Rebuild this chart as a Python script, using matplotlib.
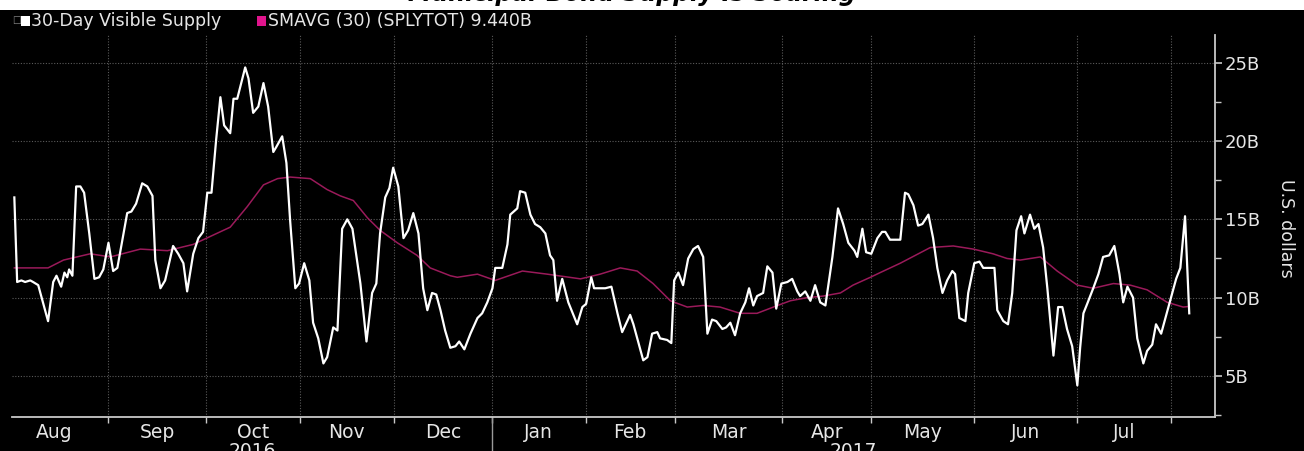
import numpy as np
import pandas as pd
import matplotlib
matplotlib.use("Agg")
import matplotlib.pyplot as plt
from matplotlib.patches import Rectangle
from matplotlib.ticker import FixedLocator, NullFormatter, FuncFormatter

###################################
# Data (x = trading-day index counted from 2016-08-01)
###################################

holidays = ['2016-09-05', '2016-10-10', '2016-11-11', '2016-11-24', '2016-12-26',
            '2017-01-02', '2017-01-16', '2017-02-20', '2017-04-14', '2017-05-29',
            '2017-07-04']

supply_day = [3.0, 3.6, 4.5, 5.3, 6.4, 7.0, 8.1, 9.2, 10.2, 11.3, 12.0, 13.0, 13.7, 14.3,
              14.7, 15.4, 16.2, 17.1, 17.9, 19.0, 20.1, 21.1, 22.0, 23.1, 24.1, 25.0, 27.1,
              28.0, 29.0, 30.3, 31.4, 32.5, 33.1, 34.2, 35.2, 36.9, 38.0, 39.1, 39.9, 41.2,
              42.3, 43.3, 44.2, 45.1, 46.1, 47.0, 47.8, 49.1, 49.8, 50.6, 52.3, 53.0, 54.0,
              55.1, 56.2, 57.2, 58.3, 58.9, 60.2, 61.1, 61.9, 63.0, 63.8, 64.9, 66.0, 66.8,
              67.9, 69.0, 69.8, 71.1, 72.0, 73.0, 74.1, 75.2, 76.9, 78.2, 79.4, 80.3, 81.1,
              82.2, 83.1, 83.9, 85.0, 86.1, 87.1, 88.2, 89.3, 90.3, 91.2, 92.2, 93.1, 94.0,
              95.0, 96.1, 97.2, 98.0, 99.1, 100.4, 101.9, 102.9, 104.0, 105.1, 105.7, 107.2,
              108.3, 108.9, 110.4, 111.0, 112.1, 113.2, 114.2, 115.3, 116.4, 117.4, 118.1,
              118.9, 120.0, 121.3, 123.2, 124.3, 125.1, 126.2, 126.8, 128.1, 129.2, 130.5,
              131.8, 132.8, 134.5, 135.2, 137.3, 138.2, 139.2, 140.3, 140.9, 142.4, 143.3,
              143.9, 144.8, 145.8, 146.9, 148.0, 149.0, 150.1, 151.0, 152.0, 152.9, 154.2,
              155.0, 155.9, 156.9, 158.0, 159.1, 159.9, 160.8, 161.6, 162.9, 163.8, 164.9,
              165.7, 166.8, 168.1, 169.1, 170.2, 170.8, 171.9, 173.0, 174.0, 175.1, 176.2,
              177.7, 178.9, 180.0, 181.1, 182.4, 183.0, 184.1, 184.9, 186.0, 187.3, 188.3,
              189.0, 190.0, 192.2, 193.2, 193.9, 195.0, 196.0, 196.9, 198.2, 199.2, 200.1,
              201.2, 202.2, 203.3, 203.9, 204.8, 206.1, 206.7, 208.0, 209.1, 209.9, 212.3,
              212.9, 214.2, 215.2, 216.1, 217.0, 218.0, 218.7, 219.9, 220.8, 221.7, 222.7,
              223.6, 224.9, 225.9, 226.8, 227.8, 228.9, 230.0, 230.6, 231.3, 232.1, 233.4,
              234.5, 235.5, 236.8, 237.9, 239.0, 239.8, 240.7, 241.9, 242.8, 244.1, 244.9,
              246.0, 246.8, 247.9, 249.0, 250.1, 251.1, 252.0, 253.0, 253.9]
supply_val = [16.4, 11.0, 11.1, 11.0, 11.1, 11.0, 10.8, 9.6, 8.5, 11.0, 11.4, 10.7, 11.6, 11.3,
              11.8, 11.4, 17.1, 17.1, 16.7, 14.1, 11.2, 11.3, 11.8, 13.5, 11.7, 11.9, 15.4,
              15.5, 16.0, 17.3, 17.1, 16.5, 12.4, 10.6, 11.1, 13.3, 12.8, 12.2, 10.4, 12.8,
              13.8, 14.2, 16.7, 16.7, 20.1, 22.8, 21.0, 20.5, 22.7, 22.7, 24.7, 24.0, 21.8,
              22.2, 23.7, 22.2, 19.3, 19.6, 20.3, 18.6, 14.9, 10.6, 10.9, 12.2, 11.1, 8.4,
              7.4, 5.8, 6.2, 8.1, 7.9, 14.4, 15.0, 14.4, 10.9, 7.2, 10.3, 10.9, 14.1,
              16.4, 17.0, 18.3, 17.1, 13.8, 14.3, 15.4, 14.1, 10.6, 9.2, 10.3, 10.2, 9.2,
              7.9, 6.8, 6.9, 7.2, 6.7, 7.7, 8.7, 9.0, 9.7, 10.6, 11.9, 11.9,
              13.4, 15.3, 15.7, 16.8, 16.7, 15.3, 14.7, 14.5, 14.1, 12.7, 12.4,
              9.8, 11.2, 9.7, 8.3, 9.4, 9.6, 11.3, 10.6, 10.6, 10.6, 10.7,
              9.0, 7.8, 8.9, 8.3, 6.0, 6.2, 7.7, 7.8, 7.4, 7.3, 7.1,
              11.1, 11.6, 10.8, 12.5, 13.1, 13.3, 12.6, 7.7, 8.6, 8.5, 8.0,
              8.1, 8.4, 7.6, 9.0, 9.7, 10.6, 9.5, 10.1, 10.3, 12.0, 11.6,
              9.3, 10.9, 11.0, 11.2, 10.4, 10.1, 10.4, 9.8, 10.8, 9.7, 9.5,
              12.6, 15.7, 14.7, 13.5, 13.0, 12.6, 14.4, 12.9, 12.8, 13.8, 14.2,
              14.2, 13.7, 13.7, 16.7, 16.6, 15.9, 14.6, 14.7, 15.3, 13.8, 11.9,
              10.3, 11.1, 11.7, 11.5, 8.7, 8.5, 10.3, 12.2, 12.3, 11.9, 11.9,
              9.2, 8.5, 8.3, 10.3, 14.3, 15.2, 14.1, 15.3, 14.4, 14.7, 13.2,
              10.6, 6.3, 9.4, 9.4, 8.0, 6.9, 4.4, 6.8, 9.0, 9.6, 10.6,
              11.5, 12.6, 12.7, 13.3, 11.5, 9.7, 10.7, 10.0, 7.4, 5.8, 6.6,
              7.0, 8.3, 7.7, 8.9, 10.1, 11.2, 11.9, 15.2, 9.0]

smavg_day = [3.0, 7.0, 10.2, 13.5, 19.2, 23.5, 29.9, 35.7, 41.2, 45.5, 49.1, 52.7, 56.2, 59.2,
             61.9, 66.2, 69.8, 72.6, 75.4, 78.4, 81.1, 84.8, 89.0, 91.8, 96.1, 97.6, 101.9,
             105.7, 111.5, 116.8, 123.9, 128.1, 132.4, 136.0, 139.4, 143.1, 146.7, 150.1,
             153.7, 158.0, 161.6, 165.1, 168.7, 172.3, 175.7, 179.4, 182.1, 185.8, 187.9,
             192.2, 198.6, 203.5, 207.8, 212.0, 215.0, 217.8, 222.1, 225.7, 230.0, 233.4,
             237.7, 241.3, 244.9, 249.2, 252.6, 253.9]
smavg_val = [11.9, 11.9, 11.9, 12.4, 12.8, 12.6, 13.1, 13.0, 13.4, 14.0, 14.5, 15.8, 17.2, 17.6,
             17.7, 17.6, 16.9, 16.5, 16.2, 15.1, 14.3, 13.5, 12.7, 11.9, 11.4, 11.3, 11.5,
             11.1, 11.7, 11.5, 11.2, 11.5, 11.9, 11.7, 10.9, 9.8, 9.4, 9.5,
             9.4, 9.0, 9.0, 9.4, 9.8, 10.0, 10.1, 10.3, 10.8, 11.3, 11.6,
             12.2, 13.2, 13.3, 13.1, 12.8, 12.5, 12.4, 12.6, 11.7, 10.8, 10.6,
             10.9, 10.8, 10.5, 9.7, 9.4, 9.44]

month_names = ['Aug', 'Sep', 'Oct', 'Nov', 'Dec', 'Jan', 'Feb', 'Mar', 'Apr', 'May', 'Jun', 'Jul']
years = ['2016', '2017']
y_ticks = [5, 10, 15, 20, 25]
y_minor = [2.5, 7.5, 12.5, 17.5, 22.5]

###################################
# Axis positions from the trading calendar
###################################

month_starts = pd.date_range('2016-08-01', '2017-08-01', freq='MS').values.astype('datetime64[D]')
month_pos = np.busday_count(np.datetime64('2016-08-01'), month_starts, holidays=holidays)
month_mid = (month_pos[:-1] + month_pos[1:]) / 2.0
jan_pos = month_pos[5]

W, H = 1304, 451
fig = plt.figure(figsize=(W / 100, H / 100), dpi=100, facecolor='black')

# white title strip at the very top (title mostly cut off)
fig.patches.append(Rectangle((0, 1 - 10 / H), 1, 10 / H, transform=fig.transFigure,
                             facecolor='white', edgecolor='none', zorder=0))
fig.text(632 / W, 1 - 1.5 / H, 'Municipal-Bond Supply Is Soaring', ha='center', va='baseline',
         fontsize=17, fontweight='bold', fontstyle='italic', color='black')

ax = fig.add_axes([12 / W, 1 - 417 / H, (1215 - 12) / W, (417 - 35) / H])
ax.set_facecolor('black')

ax.plot(smavg_day, smavg_val, color='#9a1a5a', lw=1.1, zorder=3)
ax.plot(supply_day, supply_val, color='white', lw=1.6, zorder=4)

ax.set_xlim(2.5, 259.4)
ax.set_ylim(2.38, 26.77)

# grid
for xp in month_pos[1:]:
    ax.axvline(xp, color='#5a5a5a', lw=0.8, ls=(0, (1, 1.5)), zorder=1)
for yv in y_ticks:
    ax.axhline(yv, color='#5a5a5a', lw=0.8, ls=(0, (1, 1.5)), zorder=1)

# spines
for s in ['top', 'left']:
    ax.spines[s].set_visible(False)
for s in ['bottom', 'right']:
    ax.spines[s].set_color('#c8c8c8')
    ax.spines[s].set_linewidth(1.3)

# y axis on the right
ax.yaxis.tick_right()
ax.yaxis.set_major_locator(FixedLocator(y_ticks))
ax.yaxis.set_minor_locator(FixedLocator(y_minor))
ax.yaxis.set_major_formatter(FuncFormatter(lambda v, p: '%dB' % v))
ax.tick_params(axis='y', which='major', direction='out', length=5, width=1.2,
               colors='#c8c8c8', labelcolor='#e6e6e6', labelsize=13, pad=2)
ax.tick_params(axis='y', which='minor', direction='out', length=4, width=1.0, colors='#c8c8c8')
fig.text(1286 / W, 1 - 228 / H, 'U.S. dollars', rotation=-90, ha='center', va='center',
         fontsize=12.5, color='#e6e6e6')

# x axis: ticks at month starts, labels mid-month
ax.xaxis.set_major_locator(FixedLocator(month_pos[1:]))
ax.xaxis.set_major_formatter(NullFormatter())
ax.xaxis.set_minor_locator(FixedLocator(month_mid))
ax.xaxis.set_minor_formatter(FuncFormatter(lambda v, p: month_names[p] if p < len(month_names) else ''))
ax.tick_params(axis='x', which='major', direction='out', length=4, width=1.0, colors='#c8c8c8')
ax.tick_params(axis='x', which='minor', length=0, pad=4, labelsize=13.5, labelcolor='#e6e6e6')

# year labels and separator (bottom edge clips them, as in the original)
trans = ax.get_xaxis_transform()
ax.plot([jan_pos, jan_pos], [0, -0.12], transform=trans, color='#9a9a9a', lw=1.0, clip_on=False)
ax.text((2.5 + jan_pos) / 2, -0.066, years[0], transform=trans, ha='center', va='top',
        fontsize=13.5, color='#e6e6e6')
ax.text((jan_pos + 259.4) / 2, -0.066, years[1], transform=trans, ha='center', va='top',
        fontsize=13.5, color='#e6e6e6')

# legend row
ly = 1 - 21 / H
fig.text(12 / W, ly, '\u2610', ha='left', va='center', fontsize=7, color='#888888')
fig.patches.append(Rectangle((21 / W, ly - 5 / H), 9 / W, 10 / H, transform=fig.transFigure,
                             facecolor='white', edgecolor='none'))
fig.text(31 / W, ly, '30-Day Visible Supply', ha='left', va='center', fontsize=12.5, color='#e6e6e6')
fig.patches.append(Rectangle((257 / W, ly - 5 / H), 9 / W, 10 / H, transform=fig.transFigure,
                             facecolor='#e0148c', edgecolor='none'))
fig.text(268 / W, ly, 'SMAVG (30) (SPLYTOT) 9.440B', ha='left', va='center', fontsize=12.5,
         color='#e6e6e6')

fig.savefig('out.png', dpi=100, facecolor='black')
